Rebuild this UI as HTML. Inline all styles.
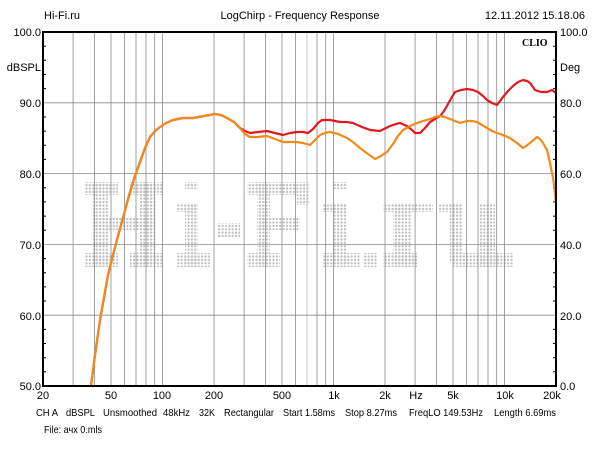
<!DOCTYPE html>
<html><head><meta charset="utf-8"><style>
html,body{margin:0;padding:0;background:#fff;}
svg{display:block;font-family:"Liberation Sans",Arial,sans-serif;font-size:11px;}
</style></head><body>
<svg width="600" height="450" viewBox="0 0 600 450" xmlns="http://www.w3.org/2000/svg">
<defs>
<pattern id="dots" x="0" y="0" width="3.4" height="3.4" patternUnits="userSpaceOnUse">
<circle cx="1.5" cy="1.5" r="1.15" fill="#bdbdbd"/>
</pattern>
</defs>
<rect width="600" height="450" fill="#fff"/>
<g fill="url(#dots)">
<rect x="84" y="182" width="34" height="13"/><rect x="130" y="182" width="33" height="13"/>
<rect x="93" y="182" width="15" height="85"/><rect x="140" y="182" width="15" height="85"/>
<rect x="93" y="218" width="62" height="12"/>
<rect x="84" y="253" width="34" height="14"/><rect x="130" y="253" width="33" height="14"/>
<rect x="185" y="182" width="13" height="7"/><rect x="177" y="203" width="21" height="9"/>
<rect x="185" y="203" width="13" height="64"/><rect x="177" y="253" width="33" height="14"/>
<rect x="217" y="223" width="23" height="14"/>
<rect x="247" y="182" width="63" height="13"/><rect x="257" y="182" width="13" height="85"/>
<rect x="297" y="195" width="13" height="10"/><rect x="257" y="218" width="43" height="12"/>
<rect x="247" y="253" width="33" height="14"/>
<rect x="333" y="182" width="14" height="7"/><rect x="323" y="203" width="24" height="9"/>
<rect x="333" y="203" width="14" height="64"/><rect x="323" y="253" width="37" height="14"/>
<rect x="363" y="253" width="14" height="14"/>
<rect x="383" y="203" width="50" height="9"/><rect x="393" y="203" width="19" height="64"/>
<rect x="383" y="253" width="34" height="14"/>
<rect x="438" y="203" width="25" height="9"/><rect x="450" y="203" width="13" height="59"/>
<rect x="480" y="203" width="15" height="64"/><rect x="453" y="253" width="60" height="14"/>
</g>
<g stroke="#8a8a8a" stroke-width="0.8">
<line x1="73.1" y1="32" x2="73.1" y2="386"/><line x1="94.5" y1="32" x2="94.5" y2="386"/>
<line x1="111" y1="32" x2="111" y2="386"/><line x1="124.6" y1="32" x2="124.6" y2="386"/>
<line x1="136" y1="32" x2="136" y2="386"/><line x1="146" y1="32" x2="146" y2="386"/>
<line x1="154.7" y1="32" x2="154.7" y2="386"/><line x1="162.5" y1="32" x2="162.5" y2="386"/>
<line x1="214" y1="32" x2="214" y2="386"/><line x1="244.1" y1="32" x2="244.1" y2="386"/>
<line x1="265.5" y1="32" x2="265.5" y2="386"/><line x1="282" y1="32" x2="282" y2="386"/>
<line x1="295.6" y1="32" x2="295.6" y2="386"/><line x1="307" y1="32" x2="307" y2="386" stroke="#bbb"/>
<line x1="317" y1="32" x2="317" y2="386"/><line x1="325.7" y1="32" x2="325.7" y2="386"/>
<line x1="333.5" y1="32" x2="333.5" y2="386"/><line x1="385" y1="32" x2="385" y2="386"/>
<line x1="415.1" y1="32" x2="415.1" y2="386"/><line x1="436.5" y1="32" x2="436.5" y2="386"/>
<line x1="453" y1="32" x2="453" y2="386"/><line x1="466.6" y1="32" x2="466.6" y2="386"/>
<line x1="478" y1="32" x2="478" y2="386"/><line x1="488" y1="32" x2="488" y2="386"/>
<line x1="496.7" y1="32" x2="496.7" y2="386"/><line x1="504.5" y1="32" x2="504.5" y2="386"/>
<line x1="43" y1="102.8" x2="556" y2="102.8"/><line x1="43" y1="173.6" x2="556" y2="173.6"/>
<line x1="43" y1="244.4" x2="556" y2="244.4"/><line x1="43" y1="315.2" x2="556" y2="315.2"/>
</g>
<g stroke="#000" stroke-width="1">
<path d="M43 46.2h3M43 60.3h3M43 74.5h3M43 88.6h3M43 117h3M43 131.1h3M43 145.3h3M43 159.4h3M43 187.8h3M43 201.9h3M43 216.1h3M43 230.2h3M43 258.6h3M43 272.7h3M43 286.9h3M43 301h3M43 329.4h3M43 343.5h3M43 357.7h3M43 371.8h3"/>
<path d="M556 46.2h-3M556 60.3h-3M556 74.5h-3M556 88.6h-3M556 117h-3M556 131.1h-3M556 145.3h-3M556 159.4h-3M556 187.8h-3M556 201.9h-3M556 216.1h-3M556 230.2h-3M556 258.6h-3M556 272.7h-3M556 286.9h-3M556 301h-3M556 329.4h-3M556 343.5h-3M556 357.7h-3M556 371.8h-3"/>
</g>
<polyline fill="none" stroke="#e0191f" stroke-width="2.2" stroke-linejoin="round" points="91,386 95,355 100,320 105,292 108,275 113,255 118,236 123,218 127,203 130,192 135,176 140,162 145,148 150,137 155,131 160,127 166,123 173,120 183,118 193,118 204,116 215,114 221,115 227,118 234,122 240,128 245,131 250,133 258,132 267,131 275,133 283,135 290,133 297,132 303,132 308,133 313,129 318,123 322,120 330,120 340,122 347,122 353,123 362,127 370,130 380,131 386,128 390,126 396,124 400,123 407,126 412,130 415,133 420,133 425,128 430,122 435,119 440,116 444,111 448,104 452,97 455,92 461,90 467,89 473,90 478,92 483,96 487,100 492,103 497,105 500,101 503,97 508,91 513,86 518,82 523,80 527,81 530,83 533,87 535,90 541,92 547,92 552,90 556,93"/>
<polyline fill="none" stroke="#f08a1d" stroke-width="2.2" stroke-linejoin="round" points="91,386 95,355 100,320 105,292 108,275 113,255 118,236 123,218 127,203 130,192 135,176 140,162 145,148 150,137 155,131 160,127 166,123 173,120 183,118 193,118 204,116 215,114 221,115 227,118 234,122 240,128 245,134 250,137 258,137 267,136 275,139 283,142 290,142 297,142 303,143 310,145 315,140 320,135 325,133 330,132 338,134 347,138 353,142 360,148 368,154 375,159 381,156 387,152 393,144 398,136 403,130 410,126 417,123 423,121 430,119 435,117 440,116 445,117 450,119 455,121 460,123 467,121 472,121 477,122 482,125 487,128 492,131 497,133 503,135 510,138 517,143 523,148 530,143 537,137 540,139 543,143 547,150 550,163 553,178 554,185 556,203"/>
<rect x="43" y="32" width="513" height="354" fill="none" stroke="#000" stroke-width="2"/>
<text x="522" y="46" font-family="Liberation Serif,serif" font-weight="bold" font-size="10">CLIO</text>
<text x="44" y="19">Hi-Fi.ru</text>
<text x="300" y="19" text-anchor="middle">LogChirp - Frequency Response</text>
<text x="585" y="19" text-anchor="end">12.11.2012 15.18.06</text>
<g text-anchor="end">
<text x="41" y="36">100.0</text><text x="41" y="71">dBSPL</text>
<text x="41" y="107">90.0</text><text x="41" y="178">80.0</text>
<text x="41" y="249">70.0</text><text x="41" y="320">60.0</text>
<text x="41" y="390">50.0</text>
</g>
<g>
<text x="560" y="36">100.0</text><text x="560" y="71">Deg</text>
<text x="560" y="107">80.0</text><text x="560" y="178">60.0</text>
<text x="560" y="249">40.0</text><text x="560" y="320">20.0</text>
<text x="560" y="390">0.0</text>
</g>
<g text-anchor="middle">
<text x="43" y="399">20</text><text x="111" y="399">50</text><text x="162" y="399">100</text>
<text x="214" y="399">200</text><text x="282" y="399">500</text><text x="334" y="399">1k</text>
<text x="385" y="399">2k</text><text x="416" y="399">Hz</text><text x="453" y="399">5k</text>
<text x="505" y="399">10k</text><text x="552" y="399">20k</text>
</g>
<g font-size="10.5" lengthAdjust="spacingAndGlyphs">
<text x="36" y="416" textLength="22" lengthAdjust="spacingAndGlyphs">CH A</text>
<text x="66" y="416" textLength="29" lengthAdjust="spacingAndGlyphs">dBSPL</text>
<text x="103" y="416" textLength="54" lengthAdjust="spacingAndGlyphs">Unsmoothed</text>
<text x="163" y="416" textLength="27" lengthAdjust="spacingAndGlyphs">48kHz</text>
<text x="199" y="416" textLength="16" lengthAdjust="spacingAndGlyphs">32K</text>
<text x="224" y="416" textLength="50" lengthAdjust="spacingAndGlyphs">Rectangular</text>
<text x="283" y="416" textLength="52" lengthAdjust="spacingAndGlyphs">Start 1.58ms</text>
<text x="345" y="416" textLength="52" lengthAdjust="spacingAndGlyphs">Stop 8.27ms</text>
<text x="409" y="416" textLength="74" lengthAdjust="spacingAndGlyphs">FreqLO 149.53Hz</text>
<text x="494" y="416" textLength="62" lengthAdjust="spacingAndGlyphs">Length 6.69ms</text>
<text x="44" y="433" textLength="58" lengthAdjust="spacingAndGlyphs">File: ачх 0.mls</text>
</g>
</svg>
</body></html>
